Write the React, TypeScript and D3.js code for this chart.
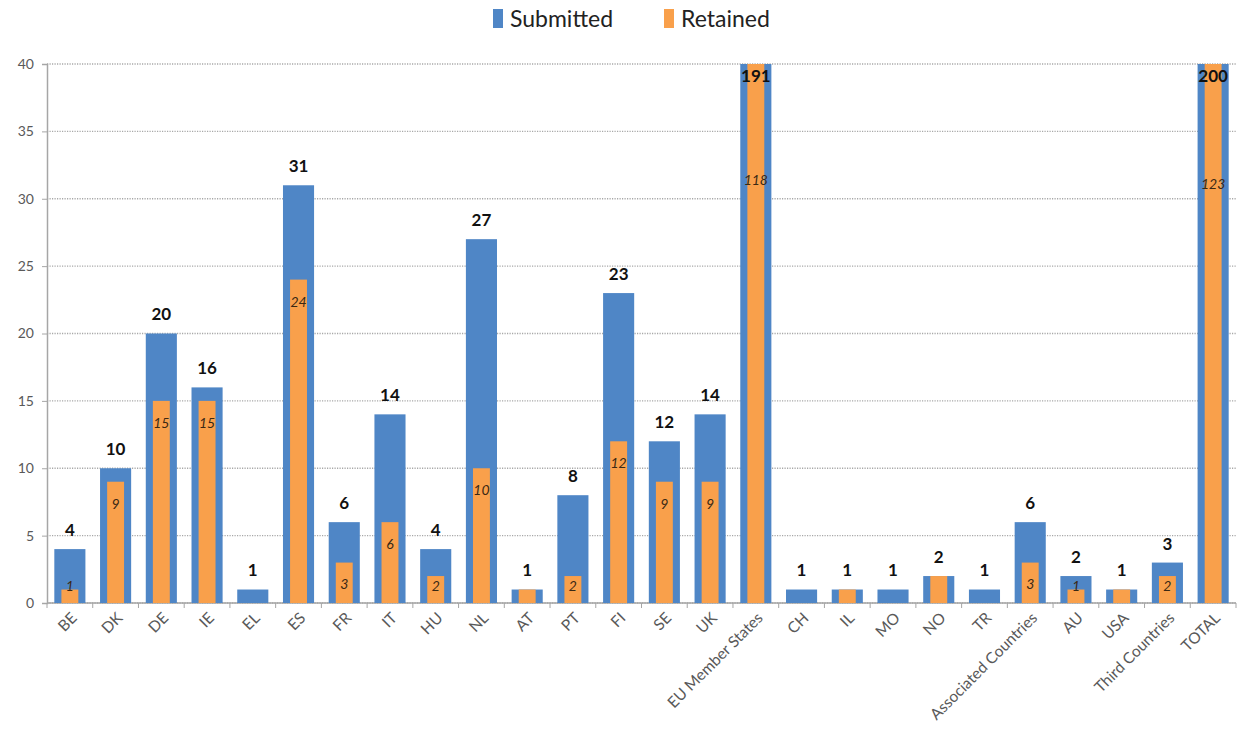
import { useEffect, useRef } from 'react';
import * as d3 from 'd3';

const categories = [
  'BE', 'DK', 'DE', 'IE', 'EL', 'ES', 'FR', 'IT', 'HU', 'NL', 'AT', 'PT', 'FI', 'SE', 'UK',
  'EU Member States', 'CH', 'IL', 'MO', 'NO', 'TR', 'Associated Countries', 'AU', 'USA',
  'Third Countries', 'TOTAL',
];
const submitted = [4, 10, 20, 16, 1, 31, 6, 14, 4, 27, 1, 8, 23, 12, 14, 191, 1, 1, 1, 2, 1, 6, 2, 1, 3, 200];
const retained = [1, 9, 15, 15, 0, 24, 3, 6, 2, 10, 1, 2, 12, 9, 9, 118, 0, 1, 0, 2, 0, 3, 1, 1, 2, 123];
const yTicks = [0, 5, 10, 15, 20, 25, 30, 35, 40];

const BLUE = '#4f86c6';
const ORANGE = '#f9a04b';
const FONT = 'Lato, "Open Sans", sans-serif';

const App = () => {
  const svgRef = useRef<SVGSVGElement | null>(null);
  const width = 1240;
  const height = 735;

  useEffect(() => {
    const svg = d3.select(svgRef.current);
    svg.selectAll('*').remove();

    const margin = { top: 64, right: 4, bottom: 132, left: 47 };
    const innerW = width - margin.left - margin.right;
    const innerH = height - margin.top - margin.bottom;
    const yMax = 40;

    const g = svg.append('g').attr('transform', `translate(${margin.left},${margin.top})`);

    const x = d3.scaleBand().domain(categories).range([0, innerW]).padding(0);
    const y = d3.scaleLinear().domain([0, yMax]).range([innerH, 0]).clamp(true);
    const step = x.bandwidth();
    const blueW = step * 0.68;
    const orangeW = step * 0.37;

    // gridlines
    g.append('g')
      .selectAll('line')
      .data(yTicks)
      .enter()
      .append('line')
      .attr('x1', 0)
      .attr('x2', innerW)
      .attr('y1', d => y(d))
      .attr('y2', d => y(d))
      .attr('stroke', '#a8a8a8')
      .attr('stroke-width', 1.3)
      .attr('stroke-dasharray', '1.2,1.3');

    // y axis
    const yAxis = g.append('g').call(d3.axisLeft(y).tickValues(yTicks).tickSize(5).tickPadding(8));
    yAxis.select('.domain').attr('stroke', '#a6a6a6').attr('stroke-width', 1.5);
    yAxis.selectAll('.tick line').attr('stroke', '#a6a6a6');
    yAxis.selectAll('text').style('font-size', '14px').style('font-family', FONT).style('fill', '#595959');

    // x axis
    const boundaries = d3.range(categories.length + 1).map(i => i * step);
    g.append('line')
      .attr('x1', 0)
      .attr('x2', innerW)
      .attr('y1', innerH)
      .attr('y2', innerH)
      .attr('stroke', '#a6a6a6')
      .attr('stroke-width', 1.5);
    g.append('g')
      .selectAll('line')
      .data(boundaries)
      .enter()
      .append('line')
      .attr('x1', d => d)
      .attr('x2', d => d)
      .attr('y1', innerH)
      .attr('y2', innerH + 5)
      .attr('stroke', '#a6a6a6');

    g.append('g')
      .selectAll('text')
      .data(categories)
      .enter()
      .append('text')
      .attr('transform', d => `translate(${(x(d) ?? 0) + step / 2 + 8},${innerH + 16}) rotate(-45)`)
      .attr('text-anchor', 'end')
      .style('font-size', '15.5px')
      .style('font-family', FONT)
      .style('fill', '#595959')
      .text(d => d);

    // bars
    g.append('g')
      .selectAll('rect')
      .data(categories)
      .enter()
      .append('rect')
      .attr('x', d => (x(d) ?? 0) + (step - blueW) / 2)
      .attr('y', (_, i) => y(submitted[i]))
      .attr('width', blueW)
      .attr('height', (_, i) => innerH - y(submitted[i]))
      .attr('fill', BLUE);

    g.append('g')
      .selectAll('rect')
      .data(categories)
      .enter()
      .append('rect')
      .attr('x', d => (x(d) ?? 0) + (step - orangeW) / 2)
      .attr('y', (_, i) => y(retained[i]))
      .attr('width', orangeW)
      .attr('height', (_, i) => innerH - y(retained[i]))
      .attr('fill', ORANGE);

    // submitted labels
    g.append('g')
      .selectAll('text')
      .data(categories)
      .enter()
      .append('text')
      .attr('x', d => (x(d) ?? 0) + step / 2)
      .attr('y', (_, i) => (submitted[i] > yMax ? y(yMax) + 12 : y(submitted[i]) - 19))
      .attr('dy', '0.35em')
      .attr('text-anchor', 'middle')
      .style('font-size', '17px')
      .style('font-weight', 'bold')
      .style('font-family', FONT)
      .style('fill', '#111')
      .text((_, i) => submitted[i]);

    // retained labels (only where fewer were retained than submitted)
    g.append('g')
      .selectAll('text')
      .data(categories.filter((_, i) => retained[i] > 0 && retained[i] < submitted[i]))
      .enter()
      .append('text')
      .attr('x', d => (x(d) ?? 0) + step / 2)
      .attr('y', d => {
        const v = retained[categories.indexOf(d)];
        if (v > yMax) return y(yMax * 0.785) + (v - 118) * 0.8;
        return Math.min(y(v) + 22, innerH - 17);
      })
      .attr('dy', '0.35em')
      .attr('text-anchor', 'middle')
      .style('font-size', '14px')
      .style('font-style', 'italic')
      .style('font-family', FONT)
      .style('fill', '#3a2814')
      .text(d => retained[categories.indexOf(d)]);

    // legend
    const legend = svg.append('g').attr('transform', 'translate(493,8)');
    const items = [
      { label: 'Submitted', color: BLUE, x: 0 },
      { label: 'Retained', color: ORANGE, x: 171 },
    ];
    items.forEach(it => {
      legend.append('rect').attr('x', it.x).attr('y', 1).attr('width', 10).attr('height', 19).attr('fill', it.color);
      legend
        .append('text')
        .attr('x', it.x + 17)
        .attr('y', 11)
        .attr('dy', '0.35em')
        .style('font-size', '23px')
        .style('font-family', FONT)
        .style('fill', '#222')
        .text(it.label);
    });
  }, []);

  return (
    <svg
      ref={svgRef}
      width={width}
      height={height}
      style={{ position: 'absolute', left: 0, top: 0, background: '#fff' }}
    />
  );
};

export default App;
